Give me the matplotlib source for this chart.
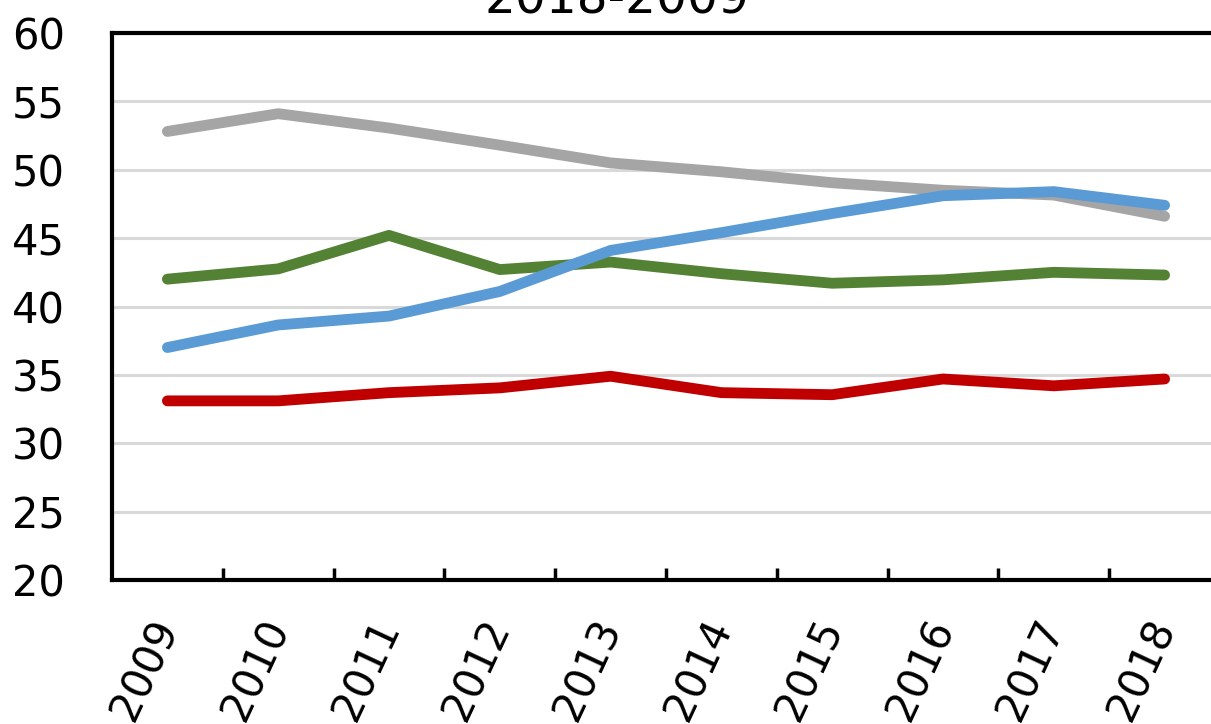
import numpy as np
import matplotlib
matplotlib.use('Agg')
import matplotlib.pyplot as plt

years = ['2009', '2010', '2011', '2012', '2013', '2014', '2015', '2016', '2017', '2018']
gray_vals = [52.8, 54.1, 53.05, 51.8, 50.5, 49.85, 49.05, 48.5, 48.15, 46.6]
red_vals = [33.1, 33.1, 33.7, 34.05, 34.9, 33.7, 33.55, 34.7, 34.2, 34.7]
green_vals = [42.0, 42.75, 45.2, 42.7, 43.25, 42.4, 41.7, 41.95, 42.5, 42.3]
blue_vals = [37.0, 38.65, 39.3, 41.1, 44.1, 45.4, 46.8, 48.1, 48.4, 47.4]
title = '2018-2009'

fig = plt.figure(figsize=(12.11, 7.24), dpi=100)
W, H = 1211, 724
ax = fig.add_axes([112 / W, (H - 580) / H, (1220 - 112) / W, (580 - 33) / H])

x = np.arange(len(years))
lw = 7.8
ax.plot(x, gray_vals, color='#a5a5a5', lw=lw, solid_capstyle='round', solid_joinstyle='round', zorder=3)
ax.plot(x, red_vals, color='#c00000', lw=lw, solid_capstyle='round', solid_joinstyle='round', zorder=3)
ax.plot(x, green_vals, color='#548235', lw=lw, solid_capstyle='round', solid_joinstyle='round', zorder=3)
ax.plot(x, blue_vals, color='#5b9bd5', lw=lw, solid_capstyle='round', solid_joinstyle='round', zorder=4)

ax.set_xlim(-0.5, len(years) - 0.5)
ax.set_ylim(20, 60)
ax.set_yticks(range(20, 61, 5))
ax.yaxis.grid(True, color='#d9d9d9', lw=2.2, zorder=0)
ax.set_axisbelow(True)

ax.set_xticks(x)
ax.set_xticklabels(years)
ax.set_xticks(np.arange(0.5, len(years) - 0.5, 1), minor=True)
ax.tick_params(axis='x', which='major', length=0, pad=30, labelsize=30)
ax.tick_params(axis='x', which='minor', direction='in', length=9, width=2.5, color='black')
ax.tick_params(axis='y', length=0, pad=34, labelsize=30)
for lab in ax.get_xticklabels():
    lab.set_rotation(65)
    lab.set_ha('right')
    lab.set_va('center')
    lab.set_rotation_mode('anchor')

for s in ['left', 'bottom', 'top']:
    ax.spines[s].set_linewidth(3)
    ax.spines[s].set_color('black')
ax.spines['right'].set_visible(False)

fig.text(617 / W, 1 - 13 / H, title, ha='center', va='baseline', fontsize=35)

fig.savefig('out.png', dpi=100)
